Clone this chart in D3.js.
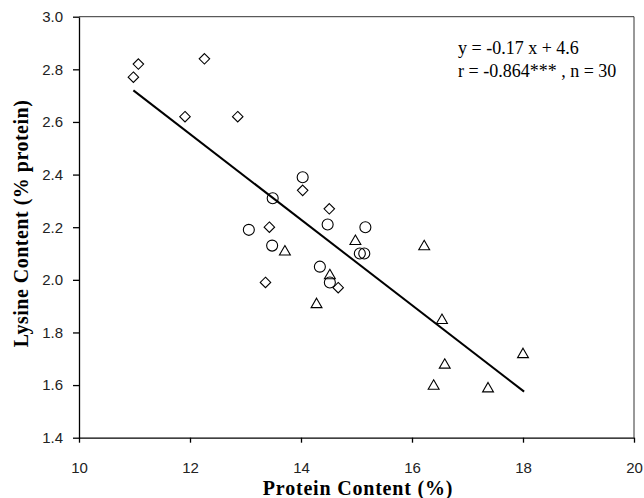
<!DOCTYPE html>
<html>
<head>
<meta charset="utf-8">
<script src="https://cdn.jsdelivr.net/npm/d3@7"></script>
<style>
  body { margin: 0; background: #fff; }
  .tick text { font-family: "Liberation Sans", Arial, sans-serif; font-size: 15px; fill: #222; }
  .serif { font-family: "Liberation Serif", "Times New Roman", serif; }
</style>
</head>
<body>
<div class="visHolder"></div>
<script>
// data: [protein %, lysine % protein]
const diamonds = [[10.98, 2.77], [11.07, 2.82], [12.26, 2.84], [11.91, 2.62], [12.86, 2.62],
    [14.03, 2.34], [13.43, 2.20], [14.51, 2.27], [13.36, 1.99], [14.67, 1.97]];
const circles = [[13.49, 2.31], [14.03, 2.39], [13.06, 2.19], [14.48, 2.21], [15.16, 2.20],
    [13.48, 2.13], [14.34, 2.05], [14.52, 1.99], [15.06, 2.10], [15.14, 2.10]];
const triangles = [[13.71, 2.11], [14.28, 1.91], [14.52, 2.02], [14.98, 2.15], [16.22, 2.13],
    [16.54, 1.85], [16.59, 1.68], [16.39, 1.60], [17.37, 1.59], [18.00, 1.72]];
const fitLine = [[10.98, 2.72], [18.02, 1.575]];
const xTicks = [10, 12, 14, 16, 18, 20];
const yTicks = [1.4, 1.6, 1.8, 2.0, 2.2, 2.4, 2.6, 2.8, 3.0];
const annot = ["y = -0.17 x + 4.6", "r = -0.864*** , n = 30"];

const w = 644, h = 498;
const padL = 79, padR = 634, padT = 16.7, padB = 437.7;

const x = d3.scaleLinear().domain([10, 20]).range([padL, padR]);
const y = d3.scaleLinear().domain([1.4, 3.0]).range([padB, padT]);

const svg = d3.select(".visHolder").append("svg")
    .attr("width", w)
    .attr("height", h);

// frame (top and right)
svg.append("path")
    .attr("d", `M${padL},${padT}H${padR}V${padB}`)
    .attr("fill", "none")
    .attr("stroke", "#333")
    .attr("stroke-width", 1);

svg.append("g")
    .attr("transform", `translate(0,${padB})`)
    .call(d3.axisBottom(x).tickValues(xTicks).tickSize(5).tickSizeOuter(0).tickPadding(20))
    .call(g => g.selectAll(".domain, line").attr("stroke", "#000").attr("stroke-width", 1.3));

svg.append("g")
    .attr("transform", `translate(${padL},0)`)
    .call(d3.axisLeft(y).tickValues(yTicks).tickFormat(d3.format(".1f")).tickSize(6).tickSizeOuter(0).tickPadding(10))
    .call(g => g.selectAll(".domain, line").attr("stroke", "#000").attr("stroke-width", 1.3));

// regression line
svg.append("path")
    .datum(fitLine)
    .attr("d", d3.line().x(d => x(d[0])).y(d => y(d[1])))
    .attr("fill", "none")
    .attr("stroke", "#000")
    .attr("stroke-width", 2);

const styleMark = sel => sel.attr("fill", "none").attr("stroke", "#000").attr("stroke-width", 1.1);

svg.append("g").selectAll("path")
    .data(diamonds)
    .enter().append("path")
    .attr("d", d3.symbol(d3.symbolDiamond2, 70))
    .attr("transform", d => `translate(${x(d[0])},${y(d[1])})`)
    .call(styleMark);

svg.append("g").selectAll("circle")
    .data(circles)
    .enter().append("circle")
    .attr("cx", d => x(d[0]))
    .attr("cy", d => y(d[1]))
    .attr("r", 5.5)
    .call(styleMark);

svg.append("g").selectAll("path")
    .data(triangles)
    .enter().append("path")
    .attr("d", d3.symbol(d3.symbolTriangle2, 85))
    .attr("transform", d => `translate(${x(d[0])},${y(d[1]) + 1})`)
    .call(styleMark);

// annotation
svg.append("g").selectAll("text")
    .data(annot)
    .enter().append("text")
    .attr("class", "serif")
    .attr("x", 458)
    .attr("y", (d, i) => 54 + i * 23)
    .style("font-size", "18px")
    .text(d => d);

// axis titles
svg.append("text")
    .attr("class", "serif")
    .attr("x", 358)
    .attr("y", 495)
    .attr("text-anchor", "middle")
    .style("font-weight", "bold")
    .style("font-size", "20px")
    .style("letter-spacing", "0.8px")
    .text("Protein Content (%)");

svg.append("text")
    .attr("class", "serif")
    .attr("transform", "translate(28,223.5) rotate(-90)")
    .attr("text-anchor", "middle")
    .style("font-weight", "bold")
    .style("font-size", "20px")
    .style("letter-spacing", "0.5px")
    .text("Lysine Content (% protein)");
</script>
</body>
</html>
